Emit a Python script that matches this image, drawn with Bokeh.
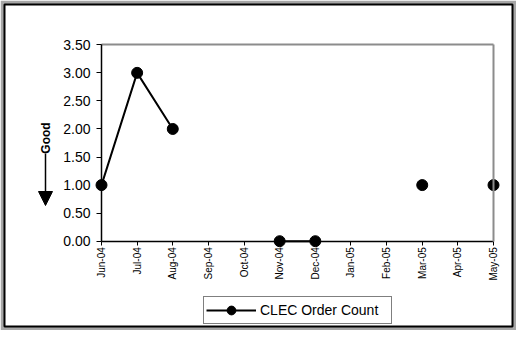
import math
from bokeh.plotting import figure
from bokeh.models import (FixedTicker, Legend, LegendItem, Label, Arrow, NormalHead,
                          NumeralTickFormatter, Range1d, LinearAxis)
from bokeh.embed import file_html
from bokeh.resources import INLINE

nan = float("nan")

# ---- data ----
months = ["Jun-04", "Jul-04", "Aug-04", "Sep-04", "Oct-04", "Nov-04",
          "Dec-04", "Jan-05", "Feb-05", "Mar-05", "Apr-05", "May-05"]
order_count = [1, 3, 2, nan, nan, 0, 0, nan, nan, 1, nan, 1]
y_ticks = [0.0, 0.5, 1.0, 1.5, 2.0, 2.5, 3.0, 3.5]
series_name = "CLEC Order Count"
direction_label = "Good"

FONT = "Liberation Sans"
x_idx = list(range(len(months)))
x_min, x_max = 0, len(months) - 1
y_min, y_max = y_ticks[0], y_ticks[-1]

# canvas geometry (pixels)
W, H = 516, 330
B = 4                                  # grey outer band
FL, FR, FT, FB = B, W - B, B, H - B    # frame (inside the band)
PL, PR, PT, PB = 101, 493, 44.3, 240.7 # plot area
xs = (PR - PL) / (x_max - x_min)
ys = (PB - PT) / (y_max - y_min)

p = figure(width=W, height=H, output_backend="svg", toolbar_location=None,
           x_range=Range1d(x_min - (PL - FL) / xs, x_max + (FR - PR) / xs),
           y_range=Range1d(y_min - (FB - PB) / ys, y_max + (PT - FT) / ys),
           min_border=B, min_border_left=B, min_border_right=B,
           min_border_top=B, min_border_bottom=B)
p.title = None
p.grid.visible = False
p.background_fill_color = "white"
p.border_fill_color = "#a6a6a6"
p.outline_line_color = "black"
p.outline_line_width = 2

# y axis
ya = p.yaxis[0]
ya.fixed_location = x_min
ya.bounds = (y_min, y_max)
ya.ticker = FixedTicker(ticks=y_ticks)
ya.formatter = NumeralTickFormatter(format="0.00")
ya.major_label_text_font = FONT
ya.major_label_text_font_size = "14px"
ya.major_label_text_color = "black"
ya.major_tick_out = 5
ya.major_tick_in = 0
ya.minor_tick_out = 0
ya.minor_tick_in = 0
ya.major_label_standoff = 6
ya.axis_line_color = "black"
ya.axis_line_width = 1.5

# x axis
xa = p.xaxis[0]
xa.fixed_location = y_min
xa.bounds = (x_min, x_max)
xa.ticker = FixedTicker(ticks=x_idx)
xa.major_label_overrides = {i: m for i, m in zip(x_idx, months)}
xa.major_label_orientation = math.pi / 2
xa.major_label_text_font = FONT
xa.major_label_text_font_size = "10px"
xa.major_label_text_color = "black"
xa.major_tick_out = 4
xa.major_tick_in = 0
xa.minor_tick_out = 0
xa.minor_tick_in = 0
xa.major_label_standoff = 2
xa.axis_line_color = "black"
xa.axis_line_width = 1.5

# grey top / right plot-area border
top_ax = LinearAxis(fixed_location=y_max, bounds=(x_min, x_max), ticker=FixedTicker(ticks=[]),
                    axis_line_color="#8c8c8c", axis_line_width=2,
                    major_tick_line_color=None, minor_tick_line_color=None,
                    major_label_text_alpha=0)
right_ax = LinearAxis(fixed_location=x_max, bounds=(y_min, y_max), ticker=FixedTicker(ticks=[]),
                      axis_line_color="#8c8c8c", axis_line_width=2,
                      major_tick_line_color=None, minor_tick_line_color=None,
                      major_label_text_alpha=0)
p.add_layout(top_ax, "above")
p.add_layout(right_ax, "right")

line_r = p.line(x_idx, order_count, line_color="black", line_width=2)
pts_r = p.scatter(x_idx, order_count, size=11, marker="circle",
                  fill_color="black", line_color="black")

legend = Legend(items=[LegendItem(label=series_name, renderers=[line_r, pts_r])],
                location=(203 - FL, FB - 324), orientation="vertical",
                border_line_color="black", border_line_width=1,
                background_fill_color="white", background_fill_alpha=1,
                label_text_font=FONT, label_text_font_size="14px",
                label_text_color="black",
                glyph_width=50, glyph_height=22, label_height=22, label_width=129,
                padding=2, margin=0, spacing=0, label_standoff=4)
p.add_layout(legend, "center")

p.add_layout(Label(x=45 - FL, y=FB - 137.5, x_units="screen", y_units="screen",
                   text=direction_label, angle=math.pi / 2,
                   text_align="center", text_baseline="middle",
                   text_font=FONT, text_font_style="bold", text_font_size="12px",
                   text_color="black"))

p.add_layout(Arrow(end=NormalHead(size=14, fill_color="black", line_color="black"),
                   x_start=x_min - (PL - 45) / xs, y_start=(PB - 153) / ys,
                   x_end=x_min - (PL - 45) / xs, y_end=(PB - 205) / ys,
                   line_color="black", line_width=1.5))

open("out.html", "w").write(file_html(p, INLINE))
